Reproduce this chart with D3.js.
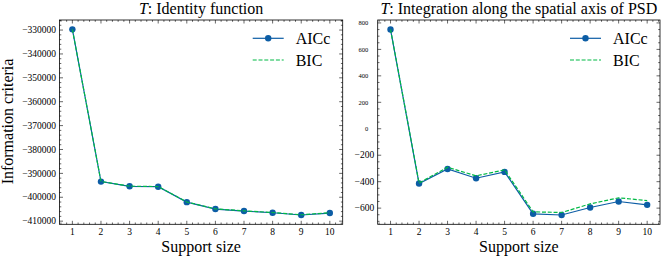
<!DOCTYPE html>
<html>
<head>
<meta charset="utf-8">
<script src="https://cdnjs.cloudflare.com/ajax/libs/d3/7.8.5/d3.min.js"></script>
<style>
  body { margin: 0; background: #fff; }
</style>
</head>
<body>
<div id="chart"></div>
<script>
// support sizes (x axis)
var supportSize = [1, 2, 3, 4, 5, 6, 7, 8, 9, 10];

// left panel: identity function
var identityAICc = [-329700, -393440, -395400, -395580, -402040, -404940, -405770, -406480, -407430, -406600];
var identityBIC  = [-329680, -393400, -395350, -395520, -401970, -404860, -405680, -406380, -407320, -406480];
var identityTicks = [-410000, -400000, -390000, -380000, -370000, -360000, -350000, -340000, -330000];

// right panel: integration along the spatial axis of PSD
var psdAICc = [750, -414, -304, -374, -326, -643, -652, -595, -550, -575];
var psdBIC  = [752, -410, -291, -356, -311, -628, -633, -568, -522, -543];
var psdTicks = [-600, -400, -200, 0, 200, 400, 600, 800];

var width = 665, height = 258;
var blue = "#0C5DA5", green = "#00B945";
var serif = "'Liberation Serif', 'DejaVu Serif', 'Times New Roman', serif";

var svg = d3.select("#chart").append("svg")
  .attr("width", width)
  .attr("height", height)
  .attr("font-family", serif)
  .style("display", "block");

function fmt(v) {
  return v < 0 ? "\u2212" + Math.abs(v) : String(v);
}

function panel(opts) {
  var x0 = opts.left, x1 = opts.right, y0 = 20, y1 = 224.3;
  var g = svg.append("g");

  var xScale = d3.scaleLinear().domain([0.55, 10.45]).range([x0, x1]);
  var ext = d3.extent(opts.aicc.concat(opts.bic));
  var pad = (ext[1] - ext[0]) * 0.05;
  var yScale = d3.scaleLinear().domain([ext[0] - pad, ext[1] + pad]).range([y1, y0]);

  // minor ticks
  var xMinor = d3.range(0.6, 10.45, 0.2).filter(v => Math.abs(v - Math.round(v)) > 0.01);
  var yd = yScale.domain();
  var yMinor = d3.range(Math.ceil(yd[0] / opts.minorStep) * opts.minorStep, yd[1], opts.minorStep)
    .filter(v => Math.abs(v / opts.majorStep - Math.round(v / opts.majorStep)) > 0.01);

  var ticks = g.append("g").attr("stroke", "#000").attr("stroke-width", 0.6);
  xMinor.forEach(v => {
    var x = xScale(v);
    ticks.append("line").attr("x1", x).attr("x2", x).attr("y1", y1).attr("y2", y1 - 1.8);
    ticks.append("line").attr("x1", x).attr("x2", x).attr("y1", y0).attr("y2", y0 + 1.8);
  });
  supportSize.forEach(v => {
    var x = xScale(v);
    ticks.append("line").attr("x1", x).attr("x2", x).attr("y1", y1).attr("y2", y1 - 3.5);
    ticks.append("line").attr("x1", x).attr("x2", x).attr("y1", y0).attr("y2", y0 + 3.5);
  });
  yMinor.forEach(v => {
    var y = yScale(v);
    ticks.append("line").attr("x1", x0).attr("x2", x0 + 1.8).attr("y1", y).attr("y2", y);
    ticks.append("line").attr("x1", x1).attr("x2", x1 - 1.8).attr("y1", y).attr("y2", y);
  });
  opts.ticks.forEach(v => {
    var y = yScale(v);
    ticks.append("line").attr("x1", x0).attr("x2", x0 + 3.5).attr("y1", y).attr("y2", y);
    ticks.append("line").attr("x1", x1).attr("x2", x1 - 3.5).attr("y1", y).attr("y2", y);
  });

  // tick labels
  g.append("g").selectAll("text").data(supportSize).enter().append("text")
    .attr("x", d => xScale(d)).attr("y", 235)
    .attr("text-anchor", "middle").attr("font-size", 9.5)
    .text(d => d);
  g.append("g").selectAll("text").data(opts.ticks).enter().append("text")
    .attr("x", d => d < 0 ? x0 - 3.5 : x0 - 9.5)
    .attr("y", d => yScale(d) + (d < 0 ? 3.2 : 2.3))
    .attr("text-anchor", "end")
    .attr("font-size", d => d < 0 ? 9.5 : 6.5)
    .text(d => fmt(d));

  // lines
  var line = d3.line().x((d, i) => xScale(supportSize[i])).y(d => yScale(d));
  g.append("path").datum(opts.aicc).attr("d", line)
    .attr("fill", "none").attr("stroke", blue).attr("stroke-width", 1.2);
  g.append("g").selectAll("circle").data(opts.aicc).enter().append("circle")
    .attr("cx", (d, i) => xScale(supportSize[i])).attr("cy", d => yScale(d))
    .attr("r", 3.2).attr("fill", blue);
  g.append("path").datum(opts.bic).attr("d", line)
    .attr("fill", "none").attr("stroke", green).attr("stroke-width", 1.2)
    .attr("stroke-dasharray", "4,1.8");

  // frame
  g.append("rect").attr("x", x0).attr("y", y0).attr("width", x1 - x0).attr("height", y1 - y0)
    .attr("fill", "none").attr("stroke", "#000").attr("stroke-width", 0.8);

  // title
  var t = g.append("text").attr("x", (x0 + x1) / 2).attr("y", 14)
    .attr("text-anchor", "middle").attr("font-size", 16);
  t.append("tspan").attr("font-style", "italic").text("T");
  t.append("tspan").text(": " + opts.title);

  // x label
  g.append("text").attr("x", (x0 + x1) / 2).attr("y", 251.5)
    .attr("text-anchor", "middle").attr("font-size", 16)
    .text("Support size");

  // legend
  var lx = x1 - 90, tx = x1 - 47;
  g.append("line").attr("x1", lx).attr("x2", lx + 31).attr("y1", 38.3).attr("y2", 38.3)
    .attr("stroke", blue).attr("stroke-width", 1.2);
  g.append("circle").attr("cx", lx + 15.5).attr("cy", 38.3).attr("r", 3.2).attr("fill", blue);
  g.append("text").attr("x", tx).attr("y", 44).attr("font-size", 16).text("AICc");
  g.append("line").attr("x1", lx).attr("x2", lx + 31).attr("y1", 60).attr("y2", 60)
    .attr("stroke", green).attr("stroke-width", 1.2).attr("stroke-dasharray", "4,1.8");
  g.append("text").attr("x", tx).attr("y", 65.7).attr("font-size", 16).text("BIC");
}

panel({ left: 59.5, right: 342.7, aicc: identityAICc, bic: identityBIC, ticks: identityTicks,
        majorStep: 10000, minorStep: 2000, title: "Identity function" });
panel({ left: 377.7, right: 660, aicc: psdAICc, bic: psdBIC, ticks: psdTicks,
        majorStep: 200, minorStep: 50, title: "Integration along the spatial axis of PSD" });

// y label
svg.append("text")
  .attr("transform", "translate(13,121.5) rotate(-90)")
  .attr("text-anchor", "middle").attr("font-size", 16)
  .text("Information criteria");
</script>
</body>
</html>
